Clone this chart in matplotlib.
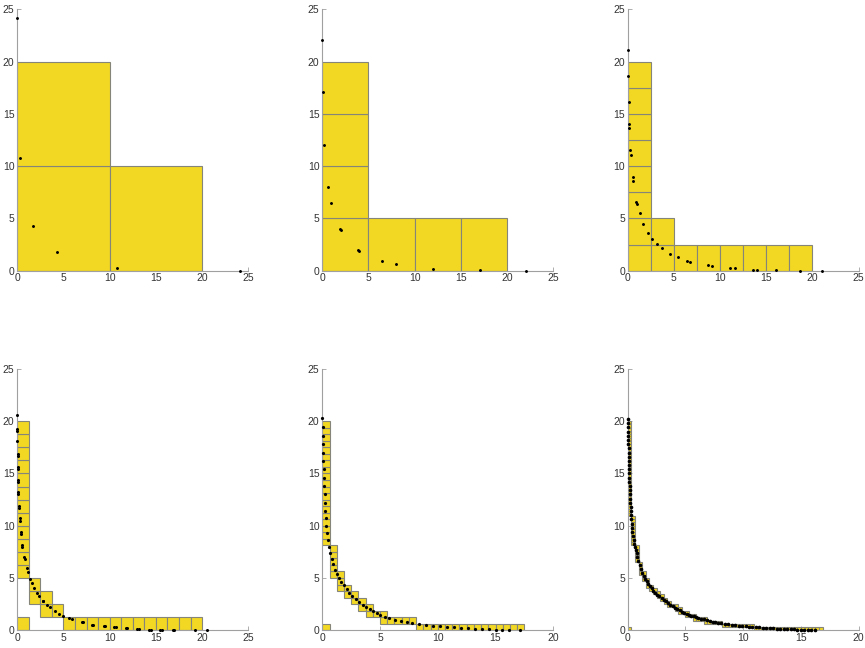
import numpy as np
import matplotlib
matplotlib.use('Agg')
import matplotlib.pyplot as plt
from matplotlib.patches import Rectangle

plt.rcParams['font.family'] = ['Liberation Sans', 'DejaVu Sans']

# box side per panel
sizes = [10, 5, 2.5, 1.25, 0.625, 0.3125]

# strips of boxes (x0, y0, x1, y1), each cut into squares of the panel's size
strips1 = [(0, 0, 10, 20), (10, 0, 20, 10)]
strips2 = [(0, 0, 5, 20), (5, 0, 20, 5)]
strips3 = [(0, 0, 2.5, 20), (2.5, 0, 5, 5), (5, 0, 20, 2.5)]
strips4 = [(0, 5, 1.25, 20), (0, 0, 1.25, 1.25), (1.25, 2.5, 2.5, 5),
           (2.5, 1.25, 3.75, 3.75), (3.75, 1.25, 5, 2.5), (5, 0, 20, 1.25)]
strips5 = [(0, 8.125, 0.625, 20), (0, 0, 0.625, 0.625), (0.625, 5, 1.25, 8.125),
           (1.25, 3.75, 1.875, 5.625), (1.875, 3.125, 2.5, 4.375),
           (2.5, 2.5, 3.125, 3.75), (3.125, 1.875, 3.75, 3.125),
           (3.75, 1.25, 4.375, 2.5), (4.375, 1.25, 5, 1.875),
           (5, 0.625, 5.625, 1.875), (5.625, 0.625, 8.125, 1.25),
           (8.125, 0, 17.5, 0.625)]
strips6 = [(0, 10.9375, 0.3125, 20), (0, 0, 0.3125, 0.3125),
           (0.3125, 8.125, 0.625, 10.9375), (0.625, 6.5625, 0.9375, 8.125),
           (0.9375, 5.3125, 1.25, 6.5625), (1.25, 4.6875, 1.5625, 5.625),
           (1.5625, 4.0625, 1.875, 5.0), (1.875, 3.75, 2.1875, 4.375),
           (2.1875, 3.4375, 2.5, 4.0625), (2.5, 3.125, 2.8125, 3.75),
           (2.8125, 2.8125, 3.125, 3.4375), (3.125, 2.5, 3.4375, 3.125),
           (3.4375, 2.1875, 3.75, 2.8125), (3.75, 2.1875, 4.0625, 2.5),
           (4.0625, 1.875, 4.375, 2.5), (4.375, 1.5625, 4.6875, 2.1875),
           (4.6875, 1.5625, 5.0, 1.875), (5.0, 1.25, 5.3125, 1.875),
           (5.3125, 1.25, 5.625, 1.5625), (5.625, 0.9375, 5.9375, 1.5625),
           (5.9375, 0.9375, 6.5625, 1.25), (6.5625, 0.625, 6.875, 1.25),
           (6.875, 0.625, 8.125, 0.9375), (8.125, 0.3125, 10.9375, 0.625),
           (10.9375, 0, 16.875, 0.3125)]

# sample points
px1 = [0.0, 0.29, 1.73, 4.26, 10.8, 24.1]
py1 = [24.2, 10.8, 4.24, 1.75, 0.29, 0.0]

px2 = [0.0, 0.06, 0.2, 0.6, 0.9, 1.9, 2.0, 3.9, 4.0, 6.5, 8.0, 12.0, 17.1, 22.1]
py2 = [22.1, 17.1, 12.0, 8.0, 6.5, 3.95, 3.9, 2.0, 1.9, 0.9, 0.6, 0.2, 0.06, 0.0]

px3 = [0.0, 0.0, 0.1, 0.18, 0.18, 0.29, 0.32, 0.58, 0.61, 0.94, 1.0, 1.3, 1.69,
       2.23, 2.67, 3.13, 3.67, 4.61, 5.44, 6.45, 6.7, 8.68, 9.08, 11.1, 11.56,
       13.58, 14.0, 16.07, 18.6, 21.07]
py3 = [21.1, 18.6, 16.1, 14.0, 13.6, 11.5, 11.1, 9.0, 8.6, 6.6, 6.35, 5.5, 4.5,
       3.6, 3.06, 2.58, 2.17, 1.6, 1.28, 0.96, 0.86, 0.51, 0.45, 0.26, 0.22,
       0.1, 0.1, 0.06, 0.0, 0.0]

px4 = [0.0, 0.0, 0.0, 0.01, 0.03, 0.03, 0.04, 0.04, 0.07, 0.07, 0.1, 0.1, 0.18,
       0.18, 0.25, 0.25, 0.4, 0.41, 0.54, 0.56, 0.76, 0.78, 1.05, 1.19, 1.37,
       1.55, 1.84, 2.16, 2.38, 2.74, 2.8, 3.25, 3.54, 4.08, 4.55, 4.98, 5.56,
       5.92, 6.95, 7.1, 8.05, 8.2, 9.35, 9.5, 10.5, 10.65, 11.75, 11.9, 13.0,
       13.15, 14.3, 14.45, 15.5, 15.65, 16.8, 16.95, 19.26, 20.5]
py4 = [20.57, 19.3, 19.05, 18.1, 16.9, 16.7, 15.6, 15.4, 14.4, 14.2, 13.2, 13.0,
       11.9, 11.7, 10.7, 10.5, 9.4, 9.2, 8.2, 8.0, 7.0, 6.8, 6.0, 5.58, 4.94,
       4.56, 4.08, 3.6, 3.32, 2.84, 2.78, 2.42, 2.2, 1.85, 1.6, 1.4, 1.15,
       1.05, 0.77, 0.77, 0.54, 0.54, 0.41, 0.41, 0.29, 0.29, 0.19, 0.19, 0.13,
       0.13, 0.06, 0.06, 0.03, 0.03, 0.03, 0.03, 0.0, 0.0]

px5 = [0.0, 0.02, 0.04, 0.06, 0.08, 0.10, 0.12, 0.14, 0.17, 0.20, 0.23, 0.27,
       0.31, 0.36, 0.42, 0.50, 0.60, 0.70, 0.82, 0.95, 1.1, 1.25, 1.45, 1.65,
       1.85, 2.1, 2.35, 2.6, 2.9, 3.2, 3.5, 3.8, 4.1, 4.4, 4.7, 5.0, 5.4, 5.8,
       6.3, 6.8, 7.3, 7.8, 8.4, 9.0, 9.6, 10.2, 10.8, 11.4, 12.0, 12.6, 13.2,
       13.8, 14.4, 15.0, 15.6, 16.2, 17.1]
py5 = [20.3, 19.4, 18.6, 17.8, 17.0, 16.2, 15.4, 14.6, 13.8, 13.0, 12.2, 11.4,
       10.7, 10.0, 9.3, 8.6, 8.0, 7.4, 6.8, 6.3, 5.8, 5.4, 5.0, 4.6, 4.3, 3.95,
       3.6, 3.3, 3.0, 2.7, 2.45, 2.2, 2.0, 1.8, 1.65, 1.5, 1.3, 1.15, 1.0,
       0.88, 0.78, 0.68, 0.58, 0.5, 0.44, 0.38, 0.32, 0.27, 0.23, 0.19, 0.15,
       0.12, 0.09, 0.06, 0.04, 0.02, 0.0]

px6 = [0.0, 0.01, 0.02, 0.03, 0.04, 0.05, 0.06, 0.07, 0.08, 0.09, 0.10, 0.11,
       0.12, 0.13, 0.14, 0.15, 0.17, 0.18, 0.20, 0.21, 0.23, 0.25, 0.27, 0.29,
       0.31, 0.34, 0.37, 0.40, 0.44, 0.50, 0.56, 0.62, 0.69, 0.76, 0.84, 0.93,
       1.03, 1.14, 1.26, 1.38, 1.5, 1.63, 1.77, 1.92, 2.07, 2.23, 2.4, 2.57,
       2.75, 2.93, 3.11, 3.3, 3.5, 3.7, 3.9, 4.1, 4.3, 4.5, 4.7, 4.9, 5.1, 5.3,
       5.5, 5.7, 5.9, 6.1, 6.35, 6.6, 6.85, 7.1, 7.35, 7.6, 7.85, 8.1, 8.4,
       8.7, 9.0, 9.3, 9.6, 9.9, 10.2, 10.5, 10.8, 11.1, 11.4, 11.7, 12.0, 12.3,
       12.6, 12.9, 13.2, 13.5, 13.8, 14.1, 14.4, 14.7, 15.0, 15.3, 15.6, 15.9,
       16.2]
py6 = [20.2, 19.8, 19.4, 19.0, 18.6, 18.2, 17.8, 17.4, 17.0, 16.6, 16.2, 15.8,
       15.4, 15.0, 14.6, 14.2, 13.8, 13.4, 13.0, 12.6, 12.2, 11.8, 11.4, 11.0,
       10.6, 10.2, 9.8, 9.4, 9.0, 8.6, 8.3, 8.0, 7.7, 7.35, 7.0, 6.6, 6.2,
       5.85, 5.5, 5.2, 4.95, 4.7, 4.45, 4.22, 4.0, 3.8, 3.6, 3.42, 3.25, 3.08,
       2.92, 2.76, 2.6, 2.45, 2.3, 2.16, 2.03, 1.91, 1.79, 1.68, 1.58, 1.49,
       1.41, 1.33, 1.26, 1.19, 1.11, 1.04, 0.97, 0.9, 0.84, 0.78, 0.72, 0.67,
       0.61, 0.56, 0.52, 0.48, 0.45, 0.42, 0.39, 0.36, 0.33, 0.3, 0.27, 0.25,
       0.23, 0.21, 0.19, 0.17, 0.15, 0.13, 0.11, 0.1, 0.08, 0.07, 0.06, 0.05,
       0.03, 0.02, 0.01]

strips = [strips1, strips2, strips3, strips4, strips5, strips6]
pxs = [px1, px2, px3, px4, px5, px6]
pys = [py1, py2, py3, py4, py5, py6]
xmax = [25, 25, 25, 25, 20, 20]
msizes = [2.2, 2.2, 2.2, 2.4, 2.6, 3.2]

fig = plt.figure(figsize=(8.65, 6.48), dpi=100)
lefts = [0.020, 0.3726, 0.7257]
bottoms = [0.5823, 0.0273]

for k in range(6):
    ax = fig.add_axes([lefts[k % 3], bottoms[k // 3], 0.267, 0.4034])
    s = sizes[k]
    for (x0, y0, x1, y1) in strips[k]:
        nx = int(round((x1 - x0) / s))
        ny = int(round((y1 - y0) / s))
        for i in range(nx):
            for j in range(ny):
                ax.add_patch(Rectangle((x0 + i*s, y0 + j*s), s, s,
                                       facecolor='#f2d823', edgecolor='#85857a',
                                       linewidth=0.8, zorder=2))
    ax.plot(pxs[k], pys[k], 'k.', markersize=msizes[k], zorder=3, clip_on=False)

    ax.set_xlim(0, xmax[k])
    ax.set_ylim(0, 25)
    ax.set_xticks(np.arange(0, xmax[k] + 1, 5))
    ax.set_yticks(np.arange(0, 26, 5))
    for side in ['top', 'right']:
        ax.spines[side].set_visible(False)
    for side in ['left', 'bottom']:
        ax.spines[side].set_color('#a0a0a0')
        ax.spines[side].set_linewidth(0.8)
    ax.tick_params(direction='in', length=3, width=0.6, color='#a0a0a0',
                   labelsize=7.5, labelcolor='#333333', pad=2)

fig.savefig('out.png', dpi=100)
